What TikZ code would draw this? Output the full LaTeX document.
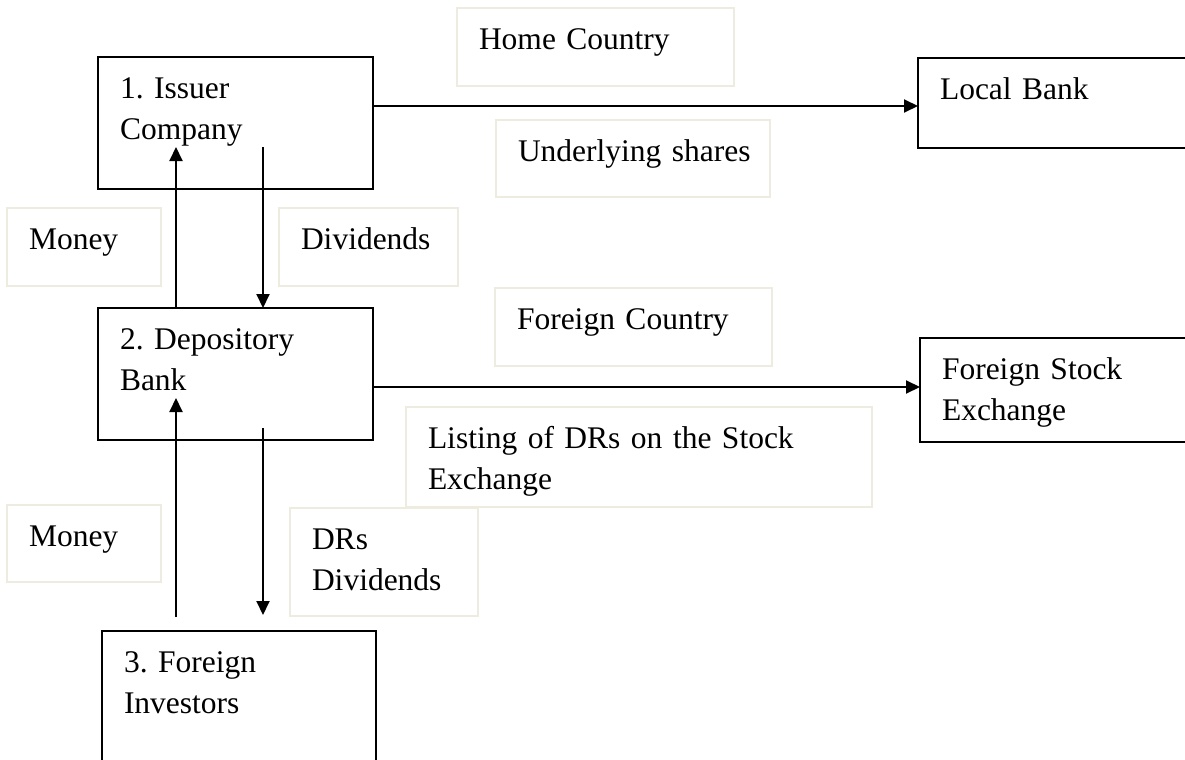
\documentclass[tikz,border=0pt]{standalone}
\usepackage{fontspec}
\setmainfont{Liberation Serif}
\usetikzlibrary{arrows.meta}
\definecolor{notegray}{RGB}{238,236,225}
\begin{document}
\begin{tikzpicture}[x=0.5pt,y=-0.5pt,
    block/.style={draw=black,line width=1pt,anchor=north west,align=left,
      inner xsep=11pt,inner ysep=0pt,outer sep=0pt,text height=20.5pt,
      font=\fontsize{15.75}{20.5}\selectfont\frenchspacing},
    note/.style={block,draw=notegray,line width=1pt},
    flow/.style={line width=1pt,-{Triangle[length=7pt,width=6.5pt]}}]
  \clip (0,0) rectangle (1185,760);
  % boxes
  \node[block,text width=115.5pt,text depth=45.5pt] (issuer) at (98,57) {1. Issuer\\Company};
  \node[block,text width=115.5pt,text depth=45.5pt] (depository) at (98,308) {2. Depository\\Bank};
  \node[block,text width=115pt,text depth=64pt] (investors) at (102,631) {3. Foreign\\Investors};
  \node[block,text width=119pt,text depth=24.5pt] (localbank) at (918,58) {Local Bank};
  \node[block,text width=118pt,text depth=31.5pt] (exchange) at (920,338) {Foreign Stock\\Exchange};
  % labels
  \node[note,text width=116.5pt,text depth=18.5pt] (home) at (457,8) {Home Country};
  \node[note,text width=115pt,text depth=18pt] (shares) at (496,120) {\mbox{Underlying shares}};
  \node[note,text width=55pt,text depth=18.5pt] (money1) at (7,208) {Money};
  \node[note,text width=67.5pt,text depth=18.5pt] (dividends1) at (279,208) {Dividends};
  \node[note,text width=116.5pt,text depth=18.5pt] (foreign) at (495,288) {Foreign Country};
  \node[note,text width=211pt,text depth=29.5pt] (listing) at (406,407) {Listing of DRs on the Stock\\Exchange};
  \node[note,text width=55pt,text depth=18pt] (money2) at (7,505) {Money};
  \node[note,text width=72pt,text depth=33.5pt] (dividends2) at (290,508) {DRs\\Dividends};
  % free ends
  \coordinate (up1) at (176,147);
  \coordinate (down1) at (263,147);
  \coordinate (up2a) at (176,617);
  \coordinate (up2b) at (176,398);
  \coordinate (down2a) at (263,428);
  \coordinate (down2b) at (263,615);
  % connectors
  \draw[flow] ([yshift=-1.5pt]localbank.west -| issuer.east) -- ([yshift=-1.5pt]localbank.west);
  \draw[flow] ([yshift=1.5pt]exchange.west -| depository.east) -- ([yshift=1.5pt]exchange.west);
  \draw[flow] (depository.north -| up1) -- (up1);
  \draw[flow] (down1) -- (down1 |- depository.north);
  \draw[flow] (up2a) -- (up2b);
  \draw[flow] (down2a) -- (down2b);
\end{tikzpicture}
\end{document}
